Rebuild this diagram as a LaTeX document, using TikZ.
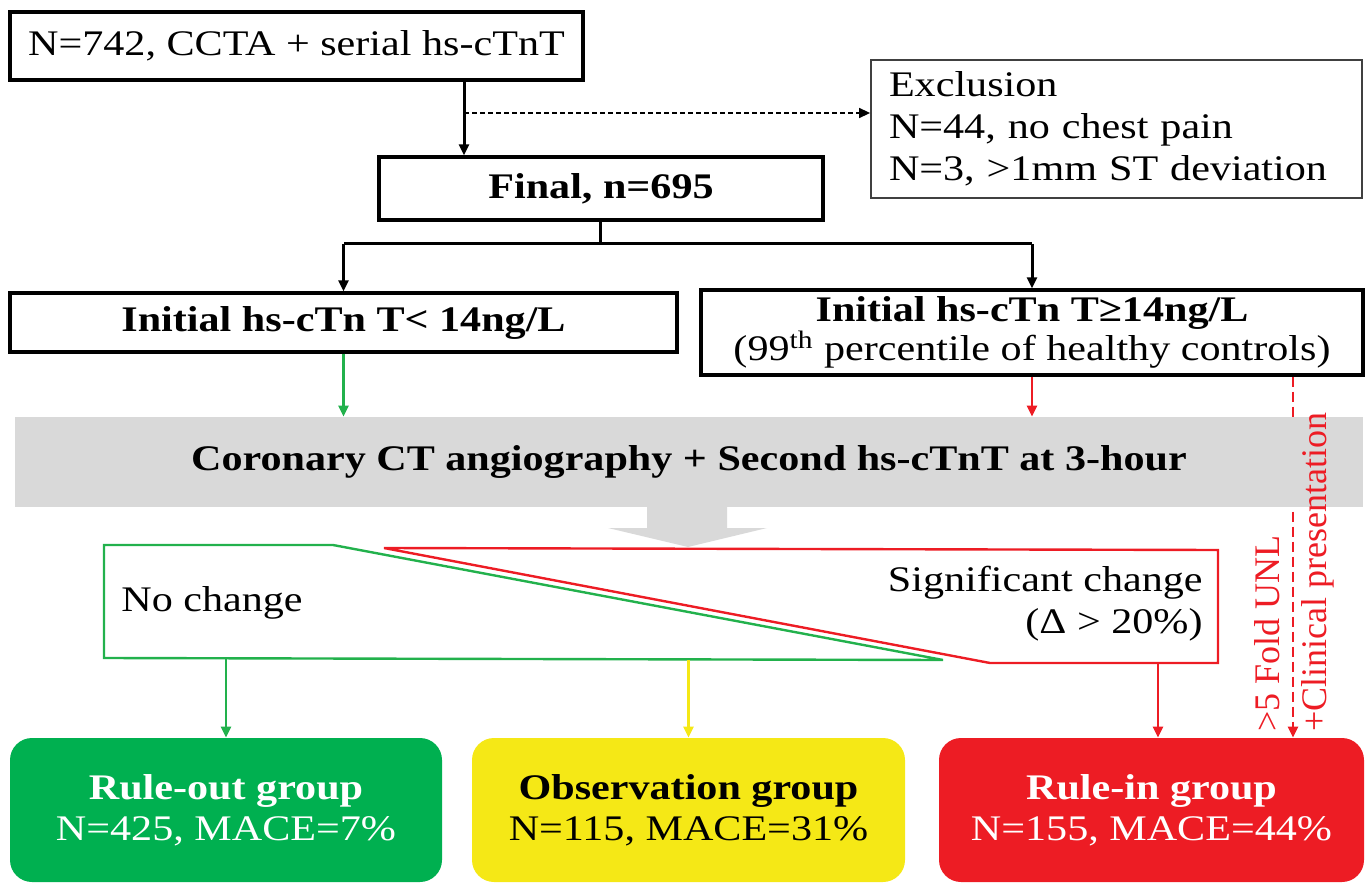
\documentclass[tikz,border=0pt]{standalone}
\usepackage{fontspec}
\setmainfont{Liberation Serif}[FakeStretch=1.17]
\newfontfamily\uprightfont{Liberation Serif}
\usetikzlibrary{arrows.meta}
\definecolor{boxgreen}{RGB}{0,176,80}
\definecolor{linegreen}{RGB}{34,177,76}
\definecolor{boxyellow}{RGB}{245,232,22}
\definecolor{boxred}{RGB}{237,28,36}
\definecolor{bandgray}{RGB}{217,217,217}

\begin{document}
\begin{tikzpicture}[x=0.5pt,y=-0.5pt,
        >={Triangle[length=5.5pt,width=5pt]},
        font=\fontsize{18}{21}\selectfont,
        main node/.style={draw,line width=1.7pt,inner sep=0pt,align=center},
        group node/.style={rounded corners=11pt,inner sep=0pt,align=center,
            minimum height=72pt,font=\fontsize{18}{20.5}\selectfont},
        thin line/.style={line width=1.2pt}]

    \useasboundingbox (0,0) rectangle (1367,883);

    \node[main node,minimum width=286.5pt,minimum height=34pt] (start) at (296.5,46)
        {N=742, CCTA + serial hs-cTnT};
    \node[draw=black!75,line width=0.9pt,inner xsep=9pt,inner ysep=0pt,
        minimum height=69pt,text width=227.5pt,align=left] (excl) at (1116.5,129)
        {Exclusion\\N=44, no chest pain\\N=3, >1mm ST deviation};
    \node[main node,minimum width=222pt,minimum height=31.5pt] (final) at (601,188.5)
        {\textbf{Final, n=695}};
    \node[main node,minimum width=333.5pt,minimum height=29.5pt] (low) at (343.5,322.5)
        {\textbf{Initial hs-cTn T< 14ng/L}};
    \node[main node,minimum width=331pt,minimum height=42.5pt,
        font=\fontsize{18}{19.5}\selectfont] (high) at (1032,332.5)
        {\textbf{Initial hs-cTn T≥14ng/L}\\(99\textsuperscript{th} percentile of healthy controls)};

    \node[group node,fill=boxgreen,text=white,minimum width=216pt] (out) at (226,810)
        {\textbf{Rule-out group}\\N=425, MACE=7\%};
    \node[group node,fill=boxyellow,minimum width=216.5pt] (obs) at (688.5,810)
        {\textbf{Observation group}\\N=115, MACE=31\%};
    \node[group node,fill=boxred,text=white,minimum width=212.5pt] (in) at (1151.5,810)
        {\textbf{Rule-in group}\\N=155, MACE=44\%};

    % direct rule-in path, runs behind the grey band
    \coordinate (fold) at (1293,0);
    \draw[->,boxred,thin line,dash pattern=on 5pt off 2.5pt]
        (high.south -| fold) -- (in.north -| fold);

    \node[fill=bandgray,minimum width=674pt,minimum height=45pt,inner sep=0pt] (band)
        at (689,462) {\textbf{Coronary CT angiography + Second hs-cTnT at 3-hour}};
    \fill[bandgray] (647,506) -- (727,506) -- (727,528) -- (767,528) -- (688,547)
        -- (608,528) -- (647,528) -- cycle;

    \node[boxred,rotate=90,anchor=west,inner sep=0pt,font=\uprightfont\fontsize{18}{20}\selectfont]
        (unl) at (1267,732) {>5 Fold UNL};
    \node[boxred,rotate=90,anchor=west,inner sep=0pt,font=\uprightfont\fontsize{18}{20}\selectfont]
        (clin) at (1318,732) {+Clinical presentation};

    % change after 3 hours
    \draw[linegreen,thin line] (104,545) -- (333,545) -- (943,660) -- (104,658) -- cycle;
    \draw[boxred,thin line] (384,548) -- (1218,550) -- (1218,663) -- (990,663) -- cycle;
    \node[anchor=west,inner sep=0pt] (none) at (121,603) {No change};
    \node[anchor=east,inner sep=0pt,align=right] (sig) at (1203,604)
        {Significant change\\(Δ > 20\%)};

    \coordinate (split) at (600,244);
    \coordinate (excl cut) at (464,113);
    \coordinate (green foot) at (226,658);
    \coordinate (yellow foot) at (688.5,660);
    \coordinate (red foot) at (1158,663);

    \path[->,line width=1.5pt]
    (start.south -| excl cut) edge (final.north -| excl cut)
    (split) edge[-] (final.south -| split)
    (split) edge[-] (low.north |- split)
    (split) edge[-] (high.north |- split)
    (low.north |- split) edge (low.north)
    (high.north |- split) edge (high.north);

    \draw[->,line width=0.7pt,dash pattern=on 2.5pt off 1.5pt] (excl cut) -- (excl.west |- excl cut);

    \path[->,thin line]
    (low.south) edge[linegreen] (band.north -| low.south)
    (high.south) edge[boxred] (band.north -| high.south)
    (green foot) edge[linegreen] (out.north)
    (yellow foot) edge[boxyellow] (obs.north)
    (red foot) edge[boxred] (in.north -| red foot);
\end{tikzpicture}
\end{document}
